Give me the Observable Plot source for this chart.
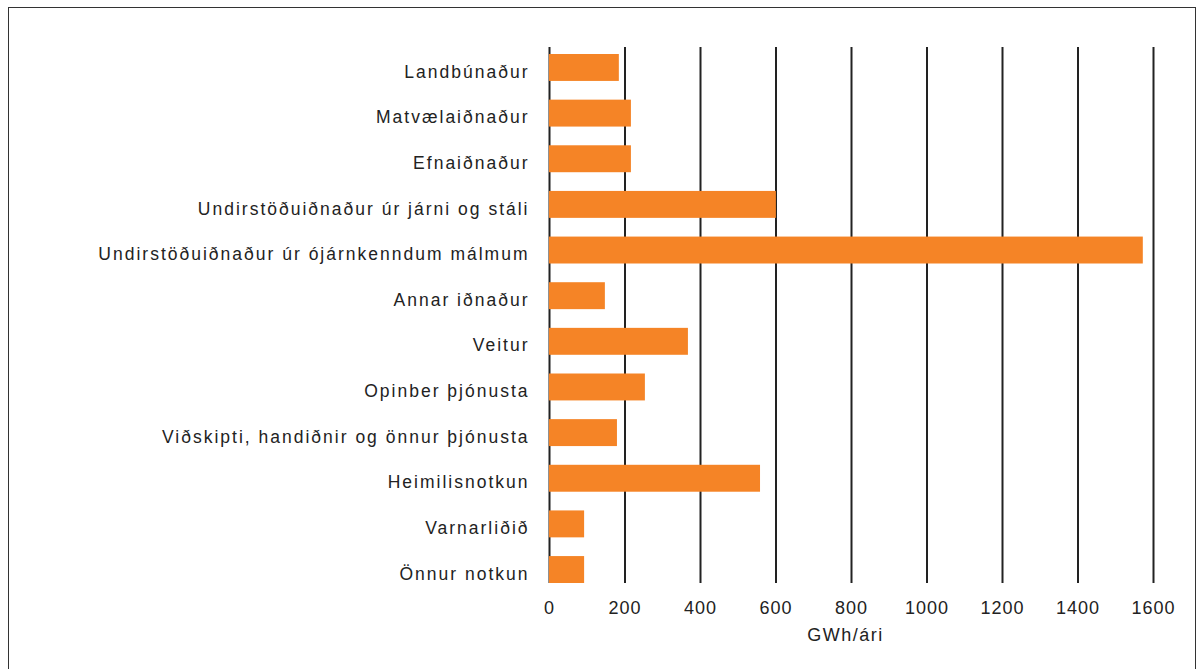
<!DOCTYPE html>
<html>
<head>
<meta charset="utf-8">
<script src="https://cdn.jsdelivr.net/npm/d3@7"></script>
<script src="https://cdn.jsdelivr.net/npm/@observablehq/plot@0.6"></script>
<style>
  html, body { margin: 0; padding: 0; background: #fff; }
  #wrap { position: relative; width: 1203px; height: 669px; overflow: hidden; }
  #border { position: absolute; left: 8px; top: 7px; width: 1188px; height: 700px; border: 1.5px solid #333; box-sizing: border-box; pointer-events: none; }
  #chart { position: absolute; left: 0; top: 0; }
  #chart svg text { letter-spacing: 2px; }
  #chart svg [aria-label="x-axis tick label"] text { letter-spacing: 1px; }
  #chart svg [aria-label="text"] text { letter-spacing: 1.5px; }
</style>
</head>
<body>
<div id="wrap"><div id="border"></div><div id="chart"></div></div>
<script>
const categories = [
  "Landbúnaður",
  "Matvælaiðnaður",
  "Efnaiðnaður",
  "Undirstöðuiðnaður úr járni og stáli",
  "Undirstöðuiðnaður úr ójárnkenndum málmum",
  "Annar iðnaður",
  "Veitur",
  "Opinber þjónusta",
  "Viðskipti, handiðnir og önnur þjónusta",
  "Heimilisnotkun",
  "Varnarliðið",
  "Önnur notkun"
];
const values = [185, 217, 217, 601, 1573, 148, 368, 254, 180, 559, 93, 93];
const xTicks = [0, 200, 400, 600, 800, 1000, 1200, 1400, 1600];
const xLabel = "GWh/ári";

const data = categories.map((c, i) => ({category: c, value: values[i]}));

const chart = Plot.plot({
  width: 1203,
  height: 669,
  marginTop: 47,
  marginBottom: 86,
  marginLeft: 549,
  marginRight: 50,
  style: {fontFamily: "'Liberation Sans', Arial, Helvetica, sans-serif", fontSize: "17px", color: "#222", background: "transparent"},
  x: {domain: [0, 1600], ticks: xTicks, tickFormat: d3.format("d"), label: null},
  y: {domain: categories, paddingInner: 0.41, paddingOuter: 0, insetTop: 7, round: false, label: null},
  marks: [
    Plot.ruleX(xTicks, {stroke: "#222", strokeWidth: 2}),
    Plot.barX(data, {y: "category", x: "value", fill: "#F58426"}),
    Plot.axisY({tickSize: 0, tickPadding: 20, fontSize: 17.5, dy: 4, label: null}),
    Plot.axisX({ticks: xTicks, tickFormat: d3.format("d"), tickSize: 0, tickPadding: 18, fontSize: 18, label: null}),
    Plot.text([xLabel], {frameAnchor: "bottom", dy: 57, dx: -6, fontSize: 18, fill: "#222", text: d => d})
  ]
});
document.getElementById("chart").appendChild(chart);
</script>
</body>
</html>
